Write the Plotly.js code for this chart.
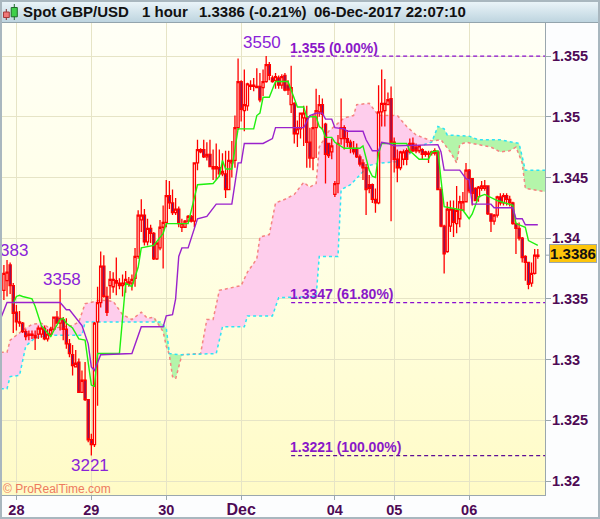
<!DOCTYPE html>
<html>
<head>
<meta charset="utf-8">
<script src="https://cdn.plot.ly/plotly-3.0.1.min.js"></script>
<style>
html,body{margin:0;padding:0;background:#fff;}
#chart{position:relative;width:600px;height:519px;
background:
 linear-gradient(#eef7fb,#bcd3de) no-repeat 0 0/100% 23px,
 linear-gradient(#fffff6 0%,#ffffe4 50%,#fffbc6 100%) no-repeat 1px 23px/545px 472px,
 #fcfdfe;}
#frame{position:absolute;left:0;top:0;width:596px;height:515px;border:2px solid #a9b7bf;pointer-events:none;}
</style>
</head>
<body>
<div id="chart"></div>
<div id="frame"></div>
<script>
// ---------- hourly candles ----------
const candleOpen = [1.3357,1.3365,1.3378,1.3361,1.3339,1.3330,1.3330,1.3323,1.3320,1.3321,1.3320,1.3321,1.3321,1.3326,1.3317,1.3321,1.3325,1.3335,1.3330,1.3333,1.3325,1.3313,1.3304,1.3294,1.3298,1.3273,1.3283,1.3267,1.3234,1.3230,1.3331,1.3347,1.3377,1.3352,1.3361,1.3360,1.3365,1.3363,1.3361,1.3362,1.3362,1.3363,1.3367,1.3385,1.3415,1.3419,1.3397,1.3408,1.3404,1.3383,1.3392,1.3409,1.3413,1.3435,1.3429,1.3421,1.3424,1.3409,1.3409,1.3414,1.3418,1.3414,1.3462,1.3471,1.3473,1.3467,1.3469,1.3457,1.3457,1.3458,1.3453,1.3453,1.3440,1.3462,1.3464,1.3491,1.3529,1.3505,1.3509,1.3525,1.3525,1.3525,1.3525,1.3524,1.3529,1.3543,1.3532,1.3530,1.3532,1.3526,1.3534,1.3526,1.3510,1.3511,1.3486,1.3490,1.3499,1.3499,1.3479,1.3466,1.3491,1.3504,1.3510,1.3494,1.3478,1.3471,1.3436,1.3445,1.3482,1.3491,1.3482,1.3479,1.3474,1.3474,1.3467,1.3462,1.3458,1.3444,1.3444,1.3432,1.3429,1.3504,1.3505,1.3510,1.3515,1.3479,1.3465,1.3458,1.3465,1.3472,1.3471,1.3478,1.3475,1.3472,1.3473,1.3471,1.3469,1.3470,1.3472,1.3471,1.3440,1.3410,1.3389,1.3410,1.3424,1.3412,1.3416,1.3423,1.3430,1.3456,1.3449,1.3441,1.3434,1.3441,1.3441,1.3443,1.3420,1.3414,1.3419,1.3434,1.3429,1.3435,1.3432,1.3429,1.3412,1.3408,1.3400,1.3385,1.3380,1.3363,1.3371,1.3385];
const candleHigh = [1.3378,1.3382,1.3380,1.3363,1.3345,1.3340,1.3331,1.3325,1.3324,1.3324,1.3324,1.3328,1.3328,1.3328,1.3325,1.3327,1.3335,1.3340,1.3358,1.3335,1.3334,1.3317,1.3312,1.3308,1.3301,1.3291,1.3298,1.3267,1.3239,1.3331,1.3360,1.3389,1.3386,1.3360,1.3373,1.3372,1.3384,1.3367,1.3370,1.3373,1.3368,1.3370,1.3392,1.3423,1.3432,1.3424,1.3416,1.3411,1.3405,1.3397,1.3415,1.3427,1.3448,1.3447,1.3440,1.3433,1.3426,1.3416,1.3415,1.3419,1.3419,1.3462,1.3481,1.3474,1.3481,1.3479,1.3481,1.3473,1.3478,1.3473,1.3470,1.3472,1.3472,1.3480,1.3501,1.3548,1.3530,1.3539,1.3528,1.3530,1.3532,1.3540,1.3536,1.3539,1.3550,1.3545,1.3534,1.3536,1.3534,1.3535,1.3536,1.3530,1.3542,1.3512,1.3497,1.3503,1.3509,1.3509,1.3491,1.3502,1.3523,1.3518,1.3515,1.3495,1.3478,1.3482,1.3447,1.3485,1.3515,1.3493,1.3489,1.3481,1.3480,1.3478,1.3469,1.3465,1.3461,1.3452,1.3445,1.3441,1.3526,1.3539,1.3531,1.3520,1.3525,1.3483,1.3473,1.3472,1.3473,1.3474,1.3482,1.3483,1.3478,1.3476,1.3474,1.3472,1.3472,1.3472,1.3474,1.3472,1.3442,1.3411,1.3430,1.3431,1.3431,1.3443,1.3435,1.3438,1.3462,1.3457,1.3449,1.3442,1.3443,1.3447,1.3448,1.3443,1.3420,1.3420,1.3435,1.3437,1.3437,1.3437,1.3435,1.3430,1.3413,1.3413,1.3401,1.3386,1.3380,1.3380,1.3391,1.3391];
const candleLow = [1.3349,1.3352,1.3354,1.3322,1.3324,1.3327,1.3322,1.3316,1.3316,1.3317,1.3308,1.3317,1.3318,1.3316,1.3315,1.3319,1.3324,1.3330,1.3324,1.3316,1.3309,1.3302,1.3287,1.3294,1.3273,1.3273,1.3266,1.3232,1.3221,1.3228,1.3262,1.3343,1.3351,1.3336,1.3350,1.3355,1.3353,1.3358,1.3352,1.3355,1.3360,1.3357,1.3360,1.3383,1.3405,1.3394,1.3394,1.3396,1.3382,1.3382,1.3390,1.3375,1.3409,1.3424,1.3419,1.3419,1.3409,1.3405,1.3409,1.3413,1.3413,1.3409,1.3456,1.3470,1.3466,1.3464,1.3459,1.3448,1.3448,1.3451,1.3451,1.3433,1.3440,1.3450,1.3458,1.3489,1.3496,1.3488,1.3505,1.3522,1.3521,1.3524,1.3512,1.3517,1.3528,1.3530,1.3528,1.3523,1.3523,1.3523,1.3521,1.3518,1.3503,1.3478,1.3475,1.3482,1.3476,1.3458,1.3458,1.3456,1.3466,1.3500,1.3489,1.3445,1.3466,1.3465,1.3434,1.3437,1.3477,1.3473,1.3475,1.3470,1.3469,1.3466,1.3459,1.3448,1.3419,1.3437,1.3429,1.3421,1.3428,1.3492,1.3492,1.3510,1.3414,1.3454,1.3446,1.3456,1.3460,1.3460,1.3470,1.3471,1.3470,1.3470,1.3465,1.3467,1.3462,1.3468,1.3468,1.3440,1.3409,1.3371,1.3388,1.3405,1.3401,1.3404,1.3409,1.3423,1.3430,1.3437,1.3427,1.3431,1.3430,1.3439,1.3439,1.3419,1.3405,1.3411,1.3417,1.3427,1.3427,1.3427,1.3426,1.3411,1.3387,1.3398,1.3380,1.3365,1.3358,1.3360,1.3370,1.3383];
const candleClose = [1.3371,1.3372,1.3361,1.3338,1.3331,1.3331,1.3323,1.3319,1.3321,1.3320,1.3318,1.3326,1.3326,1.3317,1.3321,1.3325,1.3335,1.3330,1.3334,1.3325,1.3313,1.3305,1.3295,1.3297,1.3273,1.3283,1.3267,1.3234,1.3230,1.3330,1.3347,1.3377,1.3352,1.3339,1.3366,1.3366,1.3363,1.3361,1.3363,1.3366,1.3364,1.3366,1.3385,1.3419,1.3419,1.3397,1.3408,1.3404,1.3383,1.3396,1.3409,1.3413,1.3435,1.3429,1.3421,1.3424,1.3412,1.3412,1.3414,1.3418,1.3414,1.3462,1.3473,1.3473,1.3467,1.3469,1.3459,1.3459,1.3459,1.3453,1.3455,1.3440,1.3464,1.3464,1.3491,1.3529,1.3506,1.3510,1.3527,1.3526,1.3526,1.3524,1.3514,1.3529,1.3543,1.3534,1.3529,1.3533,1.3526,1.3533,1.3522,1.3522,1.3524,1.3486,1.3490,1.3503,1.3503,1.3479,1.3466,1.3491,1.3505,1.3510,1.3502,1.3469,1.3468,1.3476,1.3445,1.3478,1.3491,1.3482,1.3479,1.3475,1.3471,1.3467,1.3461,1.3458,1.3440,1.3441,1.3432,1.3429,1.3504,1.3511,1.3511,1.3514,1.3479,1.3465,1.3458,1.3471,1.3471,1.3465,1.3478,1.3472,1.3472,1.3476,1.3469,1.3469,1.3470,1.3471,1.3470,1.3440,1.3410,1.3387,1.3424,1.3424,1.3413,1.3423,1.3430,1.3430,1.3456,1.3439,1.3437,1.3431,1.3442,1.3443,1.3443,1.3420,1.3414,1.3419,1.3434,1.3429,1.3435,1.3432,1.3429,1.3412,1.3408,1.3400,1.3384,1.3380,1.3362,1.3371,1.3386,1.3386];
// ---------- Ichimoku lines, read at their corners ----------
const tenkanBar = [3,4,5,6,9,10,12,15,16,18,19,20,22,24,26,27,28,29,30,37,39,41,43,44,48,51,52,59,62,67,69,70,71,73,75,80,81,82,83,85,87,91,94,96,97,100,101,102,103,105,106,109,114,115,117,118,119,120,121,129,130,133,136,137,139,140,141,147,149,150,152,154,158,163,164,167,168,171];
const tenkanValue = [1.3346,1.3352,1.3353,1.3352,1.3350,1.3344,1.3328,1.3319,1.3324,1.3333,1.3334,1.3330,1.3326,1.3317,1.3316,1.3297,1.3279,1.3278,1.3305,1.3305,1.3363,1.3360,1.3376,1.3392,1.3394,1.3404,1.3412,1.3412,1.3444,1.3445,1.3451,1.3464,1.3457,1.3457,1.3490,1.3490,1.3501,1.3503,1.3516,1.3516,1.3529,1.3529,1.3508,1.3508,1.3500,1.3500,1.3492,1.3490,1.3483,1.3483,1.3479,1.3474,1.3474,1.3476,1.3456,1.3451,1.3450,1.3470,1.3478,1.3478,1.3472,1.3465,1.3465,1.3471,1.3472,1.3448,1.3426,1.3423,1.3416,1.3420,1.3434,1.3436,1.3431,1.3427,1.3412,1.3409,1.3398,1.3394];
const kijunBar = [-1,1,18,20,21,23,25,27,28,29,31,41,42,44,51,52,54,55,56,57,59,62,65,68,73,75,76,77,83,86,87,96,98,100,102,103,105,106,109,110,115,116,118,120,121,123,125,139,140,141,146,148,149,150,156,157,163,164,166,167,171];
const kijunValue = [1.3334,1.3347,1.3347,1.3341,1.3341,1.3334,1.3328,1.3313,1.3294,1.3291,1.3304,1.3305,1.3313,1.3327,1.3327,1.3336,1.3337,1.3350,1.3385,1.3392,1.3392,1.3416,1.3418,1.3428,1.3428,1.3462,1.3462,1.3478,1.3478,1.3482,1.3491,1.3491,1.3501,1.3503,1.3503,1.3498,1.3498,1.3491,1.3490,1.3488,1.3488,1.3481,1.3472,1.3472,1.3479,1.3478,1.3476,1.3477,1.3471,1.3456,1.3456,1.3449,1.3448,1.3428,1.3428,1.3425,1.3425,1.3416,1.3416,1.3411,1.3411];
const spanABar = [-1,1,2,4,7,9,12,14,16,22,24,26,31,35,38,41,44,46,48,51,52,53,54,55,56,57,63,65,67,69,76,78,81,82,85,87,90,93,96,98,100,101,104,109,112,113,117,120,126,129,132,137,140,143,145,146,148,156,159,162,164,166,167,174];
const spanAValue = [1.3306,1.3306,1.3316,1.3320,1.3326,1.3329,1.3330,1.3327,1.3326,1.3328,1.3331,1.3346,1.3349,1.3348,1.3337,1.3333,1.3339,1.3334,1.3335,1.3323,1.3311,1.3304,1.3286,1.3284,1.3294,1.3304,1.3305,1.3333,1.3333,1.3357,1.3361,1.3372,1.3383,1.3401,1.3403,1.3429,1.3432,1.3436,1.3446,1.3442,1.3445,1.3475,1.3488,1.3499,1.3501,1.3510,1.3511,1.3501,1.3501,1.3492,1.3485,1.3480,1.3481,1.3471,1.3462,1.3477,1.3479,1.3475,1.3471,1.3472,1.3475,1.3462,1.3441,1.3438];
const spanBBar = [-1,1,2,5,7,10,15,25,26,48,50,52,53,56,57,68,70,77,78,86,88,100,101,107,108,111,114,117,121,126,129,132,137,139,141,142,149,152,159,165,167,174];
const spanBValue = [1.3276,1.3276,1.3286,1.3287,1.3311,1.3318,1.3320,1.3320,1.3331,1.3331,1.3331,1.3326,1.3305,1.3304,1.3304,1.3305,1.3327,1.3327,1.3336,1.3336,1.3351,1.3352,1.3385,1.3385,1.3440,1.3444,1.3452,1.3460,1.3462,1.3463,1.3467,1.3475,1.3479,1.3492,1.3490,1.3485,1.3484,1.3481,1.3481,1.3478,1.3456,1.3456];
// cloud sections: first bar, last bar, colour name
const cloudSections = [[-1,48,'pink'],[48,53,'green'],[53,57,'green'],[57,137,'pink'],[137,174,'green']];
const cloudColors = {pink:'#fecdec',green:'#b4f5aa'};
// ---------- Fibonacci levels ----------
const fibLevels = [1.355,1.3347,1.3221];
const fibColors = ['#8a0fd0','#8a0fd0','#5e0f96'];
const fibLabels = ['1.355 (0.00%)','1.3347 (61.80%)','1.3221 (100.00%)'];
const fibStartBar = 92, fibEndBar = 174;
// ---------- axes ----------
const xTickBars = [4,28,52,76,106,125,149];
const xTickLabels = ['28','29','30','<span style="font-size:16px">Dec</span>','04','05','06'];
const yTickValues = [1.32,1.325,1.33,1.335,1.34,1.345,1.35,1.355];
const yTickLabels = ['1.32','1.325','1.33','1.335','1.34','1.345','1.35','1.355'];
const lastPrice = 1.3386;
// swing labels: text, left pixel, centre pixel
const swingLabels = [['383',-1,250],['3358',42,279],['3550',242,42],['3221',70,465]];

const bars = candleOpen.map((_,i)=>i);
const L=1,R=545.5,T=23,B=495;
const px=x=>(x-L)/(R-L), py=y=>(B-y)/(B-T);
const yRange=[1.31885,1.35772], xRange=[-0.93,173.3];
const plain={family:'"Liberation Sans",Arial,sans-serif'};

const traces=[];
// cloud fills on the base subplot, so candles stay above them
function pick(xs,ys,a,b){const o=[];xs.forEach((x,k)=>{if(x>=a&&x<=b)o.push([x,ys[k]]);});return o;}
cloudSections.forEach(s=>{
  const A=pick(spanABar,spanAValue,s[0],s[1]);
  const Bb=pick(spanBBar,spanBValue,s[0],s[1]).reverse();
  const p=A.concat(Bb);
  traces.push({type:'scatter',mode:'none',x:p.map(q=>q[0]),y:p.map(q=>q[1]),fill:'toself',fillcolor:cloudColors[s[2]],hoverinfo:'skip',showlegend:false,xaxis:'x',yaxis:'y'});
});
traces.push({type:'scatter',mode:'lines',x:spanABar,y:spanAValue,line:{color:'#f58480',width:1.5,dash:'3px,3px'},hoverinfo:'skip',showlegend:false,xaxis:'x',yaxis:'y'});
traces.push({type:'scatter',mode:'lines',x:spanBBar,y:spanBValue,line:{color:'#2ee4f4',width:1.5,dash:'3px,3px'},hoverinfo:'skip',showlegend:false,xaxis:'x',yaxis:'y'});
// candles + lines on the overlay
traces.push({type:'candlestick',x:bars,open:candleOpen,high:candleHigh,low:candleLow,close:candleClose,
  increasing:{line:{color:'#ff0000',width:1.3},fillcolor:'#fffff4'},
  decreasing:{line:{color:'#ff0000',width:1.3},fillcolor:'#4a1e8c'},
  whiskerwidth:0,hoverinfo:'skip',showlegend:false,xaxis:'x',yaxis:'y2'});
traces.push({type:'scatter',mode:'lines',x:tenkanBar,y:tenkanValue,line:{color:'#1ff00f',width:1.4},hoverinfo:'skip',showlegend:false,xaxis:'x',yaxis:'y2'});
traces.push({type:'scatter',mode:'lines',x:kijunBar,y:kijunValue,line:{color:'#9a22cc',width:1.4},hoverinfo:'skip',showlegend:false,xaxis:'x',yaxis:'y2'});
fibLevels.forEach((v,k)=>traces.push({type:'scatter',mode:'lines',x:[fibStartBar,fibEndBar],y:[v,v],line:{color:fibColors[k],width:1.2,dash:'4px,3px'},hoverinfo:'skip',showlegend:false,xaxis:'x',yaxis:'y2'}));

const ann=[];
function text(t,x,y,size,color,weight,anchor){ann.push({text:t,xref:'paper',yref:'paper',x:px(x),y:py(y),xanchor:anchor||'left',yanchor:'middle',showarrow:false,borderpad:0,font:{family:plain.family,size:size,color:color,weight:weight||400}});}
text('Spot GBP/USD',22,12,15,'#111',700);
text('1 hour',141,12,15,'#111',700);
text('1.3386 (-0.21%)',198,12,15,'#111',700);
text('06-Dec-2017 22:07:10',313,12,15,'#111',700);
swingLabels.forEach(s=>text(s[0],s[1],s[2],17,'#8a22d8',400));
const fibLabelY=[48,294,447];
fibLabels.forEach((t,k)=>text(t,289.5,fibLabelY[k],14,'#8a18c8',700));
text('© ProRealTime.com',2,489,12,'#ee7a5e',400);
ann.push({text:lastPrice.toFixed(4),xref:'paper',yref:'paper',x:px(574),y:py(253.5),xanchor:'center',yanchor:'middle',showarrow:false,width:46,height:17,bgcolor:'#fdc50c',bordercolor:'#9aa7ae',borderwidth:1,borderpad:0,font:{family:plain.family,size:15,color:'#111',weight:700}});

function rect(x0,y0,x1,y1,fill,line){return {type:'rect',xref:'paper',yref:'paper',x0:px(x0),x1:px(x1),y0:py(y0),y1:py(y1),fillcolor:fill,line:{color:line,width:1},layer:'above'};}
function seg(x0,y0,x1,y1,c){return {type:'line',xref:'paper',yref:'paper',x0:px(x0),x1:px(x1),y0:py(y0),y1:py(y1),line:{color:c,width:1},layer:'above'};}
const shapes=[
  seg(6.3,9,6.3,20,'#7c2a2a'),rect(3.5,12,9.3,17.5,'#f07878','#a23a3a'),
  seg(14.3,4,14.3,20,'#1f6a2a'),rect(11.2,7.5,17.3,16.8,'#3fd04a','#1f6a2a'),
  {type:'line',xref:'paper',yref:'y2',x0:1,x1:px(549.5),y0:lastPrice,y1:lastPrice,line:{color:'#9aa7ae',width:1},layer:'above'},
  {type:'line',xref:'paper',yref:'paper',x0:0,x1:px(600),y0:py(22.5),y1:py(22.5),line:{color:'#93a4ad',width:1},layer:'above'}
];

const layout={width:600,height:519,margin:{l:L,r:600-R,t:T,b:519-B,pad:0},
  paper_bgcolor:'rgba(0,0,0,0)',plot_bgcolor:'rgba(0,0,0,0)',showlegend:false,hovermode:false,dragmode:false,boxgap:0.02,
  xaxis:{type:'linear',range:xRange,tickvals:xTickBars,ticktext:xTickLabels,ticks:'outside',ticklen:4,tickcolor:'#9aa7ae',tickwidth:1,ticklabelstandoff:-2,
    showgrid:true,gridcolor:'#e6e4c6',gridwidth:1,zeroline:false,showline:true,linecolor:'#9aa7ae',linewidth:1,
    tickfont:{family:plain.family,size:14.5,color:'#4e0a55',weight:700},rangeslider:{visible:false},fixedrange:true},
  yaxis:{range:yRange,side:'right',tickvals:yTickValues,ticktext:yTickLabels,ticks:'outside',ticklen:5,tickcolor:'#9aa7ae',tickwidth:1,ticklabelstandoff:-2,
    showgrid:true,gridcolor:'#e6e4c6',gridwidth:1,zeroline:false,showline:true,linecolor:'#9aa7ae',linewidth:1,
    tickfont:{family:plain.family,size:14.5,color:'#4e0a55',weight:700},fixedrange:true},
  yaxis2:{range:yRange,overlaying:'y',side:'right',showticklabels:false,ticks:'',showgrid:false,zeroline:false,showline:false,fixedrange:true},
  annotations:ann,shapes:shapes};
Plotly.newPlot('chart',traces,layout,{displayModeBar:false,staticPlot:true,responsive:false});
</script>
</body>
</html>
